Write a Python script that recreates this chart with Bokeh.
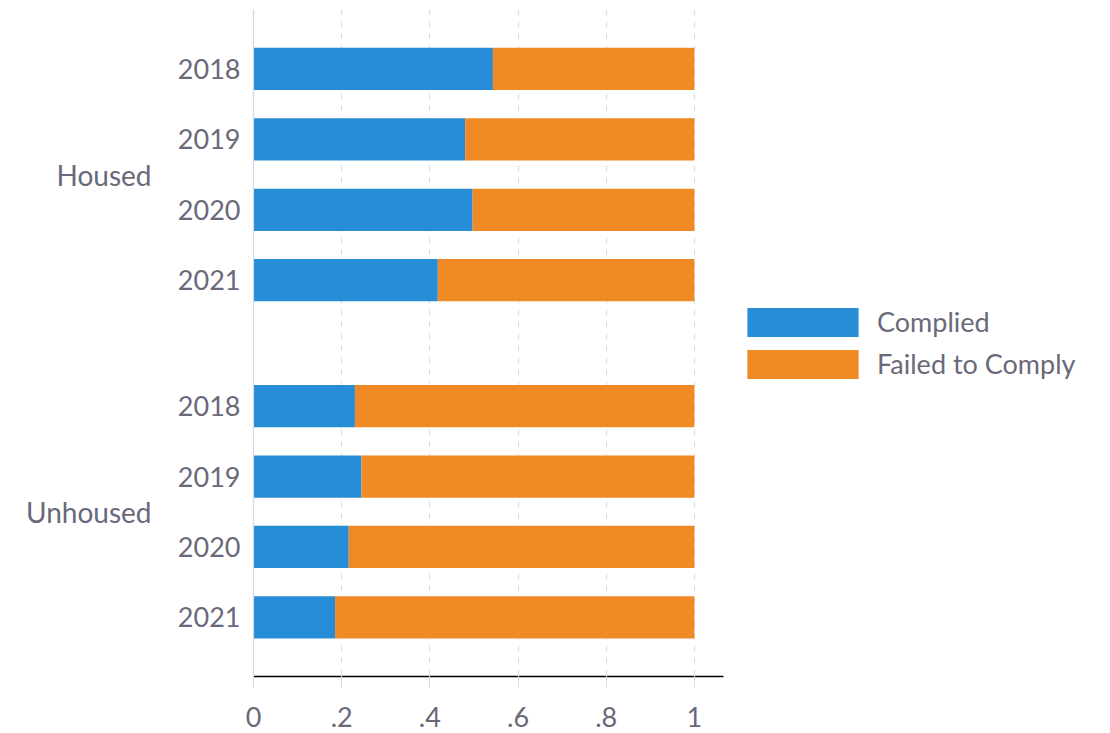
from bokeh.plotting import figure
from bokeh.models import (ColumnDataSource, Range1d, FixedTicker, LinearAxis,
                          Legend, LegendItem)
from bokeh.embed import file_html
from bokeh.resources import INLINE

# ---- data ----
groups = ["Housed", "Unhoused"]
years = ["2018", "2019", "2020", "2021"]
complied_housed = [0.543, 0.480, 0.497, 0.418]
complied_unhoused = [0.230, 0.245, 0.216, 0.185]
x_ticks = [0, 0.2, 0.4, 0.6, 0.8, 1]
x_tick_labels = ["0", ".2", ".4", ".6", ".8", "1"]

BLUE = "#268dd6"
ORANGE = "#f08a24"
TEXT = "#696979"
FONT = "Lato"
GROUP_GAP = 0.79

# positions derived from category order
ypos, ylab, comp = [], [], []
group_centers = []
for gi, (g, vals) in enumerate(zip(groups, [complied_housed, complied_unhoused])):
    base = gi * (len(years) + GROUP_GAP)
    pos = [base + i for i in range(len(years))]
    group_centers.append(sum(pos) / len(pos))
    ypos += pos
    ylab += years
    comp += vals
failed = [1 - c for c in comp]

src = ColumnDataSource(dict(y=ypos, comp=comp, one=[1.0] * len(comp), failed=failed))

p = figure(output_backend="svg", toolbar_location=None,
           frame_width=470, frame_height=667,
           min_border_left=253, min_border_top=9, min_border_right=0,
           min_border_bottom=56,
           x_range=Range1d(0, 1.066),
           y_range=Range1d(ypos[-1] + 0.84, -0.845),
           y_axis_location=None)
p.outline_line_color = None
p.background_fill_color = "white"

r1 = p.hbar(y="y", left=0, right="comp", height=0.6, source=src,
            fill_color=BLUE, line_color=None)
r2 = p.hbar(y="y", left="comp", right="one", height=0.6, source=src,
            fill_color=ORANGE, line_color=None)

# x axis
xa = p.xaxis[0]
xa.ticker = FixedTicker(ticks=x_ticks)
xa.major_label_overrides = {t: l for t, l in zip(x_ticks, x_tick_labels)}
xa.axis_line_color = "black"
xa.axis_line_width = 1.5
xa.major_tick_line_color = "#d3dbe6"
xa.major_tick_in = 5
xa.major_tick_out = 11
xa.minor_tick_line_color = None
xa.major_label_standoff = 19
xa.major_label_text_font = FONT
xa.major_label_text_font_size = "27px"
xa.major_label_text_color = TEXT

# y axis: years
ya = LinearAxis(ticker=FixedTicker(ticks=ypos),
                major_label_overrides={y: l for y, l in zip(ypos, ylab)})
ya.axis_line_color = "#cfd8e4"
ya.axis_line_width = 1.2
ya.major_tick_line_color = None
ya.minor_tick_line_color = None
ya.major_label_standoff = 7
ya.major_label_text_font = FONT
ya.major_label_text_font_size = "27px"
ya.major_label_text_color = TEXT
p.add_layout(ya, "left")

# y axis: groups
ga = LinearAxis(ticker=FixedTicker(ticks=group_centers),
                major_label_overrides={c: g for c, g in zip(group_centers, groups)})
ga.axis_line_color = None
ga.major_tick_line_color = None
ga.minor_tick_line_color = None
ga.major_label_standoff = 17
ga.major_label_text_font = FONT
ga.major_label_text_font_size = "28px"
ga.major_label_text_color = TEXT
p.add_layout(ga, "left")

# grid
p.ygrid.grid_line_color = None
p.xgrid.ticker = FixedTicker(ticks=x_ticks[1:])
p.xgrid.grid_line_color = "#d6dee9"
p.xgrid.grid_line_dash = "6 6"
p.xgrid.grid_line_width = 1.2

legend = Legend(items=[LegendItem(label="Complied", renderers=[r1]),
                       LegendItem(label="Failed to Comply", renderers=[r2])],
                location="center_left", orientation="vertical",
                glyph_width=139, glyph_height=36, spacing=6,
                label_standoff=5, padding=0, margin=10,
                border_line_color=None, background_fill_alpha=0,
                label_text_font=FONT, label_text_font_size="27px",
                label_text_color=TEXT, label_height=36)
p.add_layout(legend, "right")

open("out.html", "w").write(file_html(p, INLINE))
